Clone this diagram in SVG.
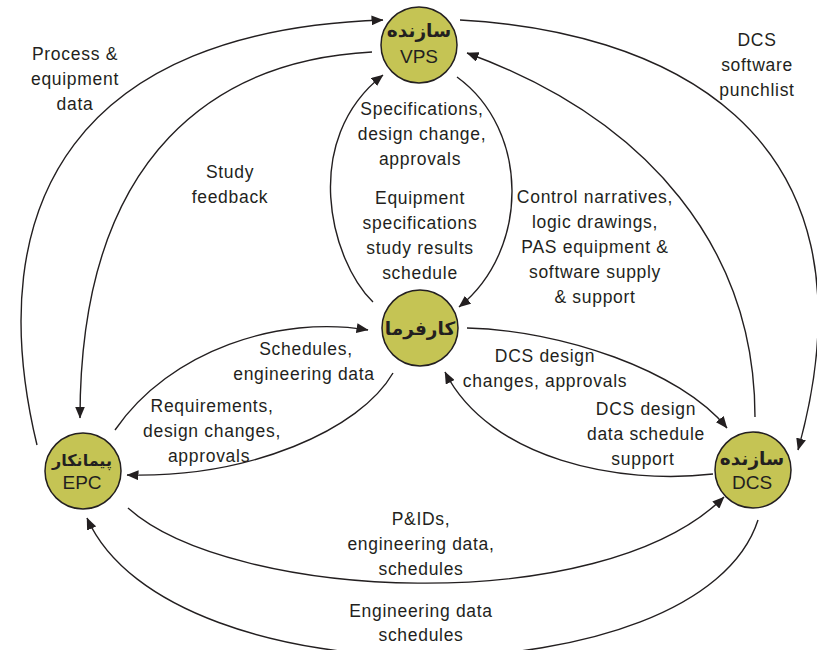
<svg xmlns="http://www.w3.org/2000/svg" width="817" height="650" viewBox="0 0 817 650">
<style>
.bg{fill:#ffffff}
.node{fill:#c5c454;stroke:#231f20;stroke-width:1.5}
.fa{font-family:"DejaVu Sans",sans-serif;font-weight:bold;font-size:18.5px;fill:#231f20;text-anchor:middle}
.en{font-family:"Liberation Sans",Arial,sans-serif;font-size:19px;fill:#231f20;text-anchor:middle}
.lbl{font-family:"Liberation Sans",Arial,sans-serif;font-size:17.5px;letter-spacing:0.7px;fill:#231f20;text-anchor:middle}
.edge{fill:none;stroke:#231f20;stroke-width:1.4}
</style>
<defs>
<marker id="ah" viewBox="0 0 12 10" refX="11.5" refY="5" markerWidth="12" markerHeight="10" orient="auto" markerUnits="userSpaceOnUse">
<path d="M0,0 L12,5 L0,10 z" fill="#231f20"/>
</marker>
</defs>
<rect class="bg" x="0" y="0" width="817" height="650"/>
<g id="connectors">
<path id="e-process" class="edge" marker-end="url(#ah)" d="M37,445 C -22,200 80,30 383,20"/>
<path id="e-study" class="edge" marker-end="url(#ah)" d="M372,52 C 220,60 80,150 80,418"/>
<path id="e-spec" class="edge" marker-end="url(#ah)" d="M373,302 C 330,260 300,140 383,75"/>
<path id="e-equip" class="edge" marker-end="url(#ah)" d="M457,77 C 530,130 530,250 459,307"/>
<path id="e-control" class="edge" marker-end="url(#ah)" d="M755,417 C 755,250 650,120 467,53"/>
<path id="e-punch" class="edge" marker-end="url(#ah)" d="M460,20 C 650,30 890,120 798,450"/>
<path id="e-k2dcs" class="edge" marker-end="url(#ah)" d="M467,328 C 560,330 680,370 727,428"/>
<path id="e-dcs2k" class="edge" marker-end="url(#ah)" d="M713,474 C 620,485 490,460 445,372"/>
<path id="e-epc2k" class="edge" marker-end="url(#ah)" d="M115,430 C 170,350 280,315 368,330"/>
<path id="e-k2epc" class="edge" marker-end="url(#ah)" d="M393,373 C 360,430 250,478 127,475"/>
<path id="e-pids" class="edge" marker-end="url(#ah)" d="M128,508 C 230,600 600,620 724,497"/>
<path id="e-engdata" class="edge" marker-end="url(#ah)" d="M758,520 C 700,700 170,705 87,518"/>
</g>
<g id="labels">
<text class="lbl" x="75" y="60">Process &amp;</text>
<text class="lbl" x="75" y="85">equipment</text>
<text class="lbl" x="75" y="110">data</text>
<text class="lbl" x="230" y="178">Study</text>
<text class="lbl" x="230" y="203">feedback</text>
<text class="lbl" x="422" y="115">Specifications,</text>
<text class="lbl" x="422" y="140">design change,</text>
<text class="lbl" x="420" y="165">approvals</text>
<text class="lbl" x="420" y="204">Equipment</text>
<text class="lbl" x="420" y="229">specifications</text>
<text class="lbl" x="420" y="254">study results</text>
<text class="lbl" x="420" y="279">schedule</text>
<text class="lbl" x="595" y="203">Control narratives,</text>
<text class="lbl" x="595" y="228">logic drawings,</text>
<text class="lbl" x="595" y="253">PAS equipment &amp;</text>
<text class="lbl" x="595" y="278">software supply</text>
<text class="lbl" x="595" y="303">&amp; support</text>
<text class="lbl" x="757" y="46">DCS</text>
<text class="lbl" x="757" y="71">software</text>
<text class="lbl" x="757" y="96">punchlist</text>
<text class="lbl" x="306" y="355">Schedules,</text>
<text class="lbl" x="304" y="380">engineering data</text>
<text class="lbl" x="212" y="412">Requirements,</text>
<text class="lbl" x="212" y="437">design changes,</text>
<text class="lbl" x="209" y="462">approvals</text>
<text class="lbl" x="545" y="362">DCS design</text>
<text class="lbl" x="545" y="387">changes, approvals</text>
<text class="lbl" x="646" y="415">DCS design</text>
<text class="lbl" x="646" y="440">data schedule</text>
<text class="lbl" x="643" y="465">support</text>
<text class="lbl" x="421" y="525">P&amp;IDs,</text>
<text class="lbl" x="421" y="550">engineering data,</text>
<text class="lbl" x="421" y="575">schedules</text>
<text class="lbl" x="421" y="617">Engineering data</text>
<text class="lbl" x="421" y="641">schedules</text>
</g>
<g id="node-vps">
<circle class="node" cx="419" cy="45" r="38"/>
<text class="fa" x="419" y="37">سازنده</text>
<text class="en" x="419" y="63">VPS</text>
</g>
<g id="node-karfarma">
<circle class="node" cx="420" cy="328" r="38"/>
<text class="fa" x="420" y="335">کارفرما</text>
</g>
<g id="node-epc">
<circle class="node" cx="83" cy="471" r="38"/>
<text class="fa" x="82" y="466" style="font-size:16px">پیمانکار</text>
<text class="en" x="82" y="489">EPC</text>
</g>
<g id="node-dcs">
<circle class="node" cx="753" cy="470" r="38"/>
<text class="fa" x="752" y="465">سازنده</text>
<text class="en" x="752" y="489">DCS</text>
</g>
</svg>
